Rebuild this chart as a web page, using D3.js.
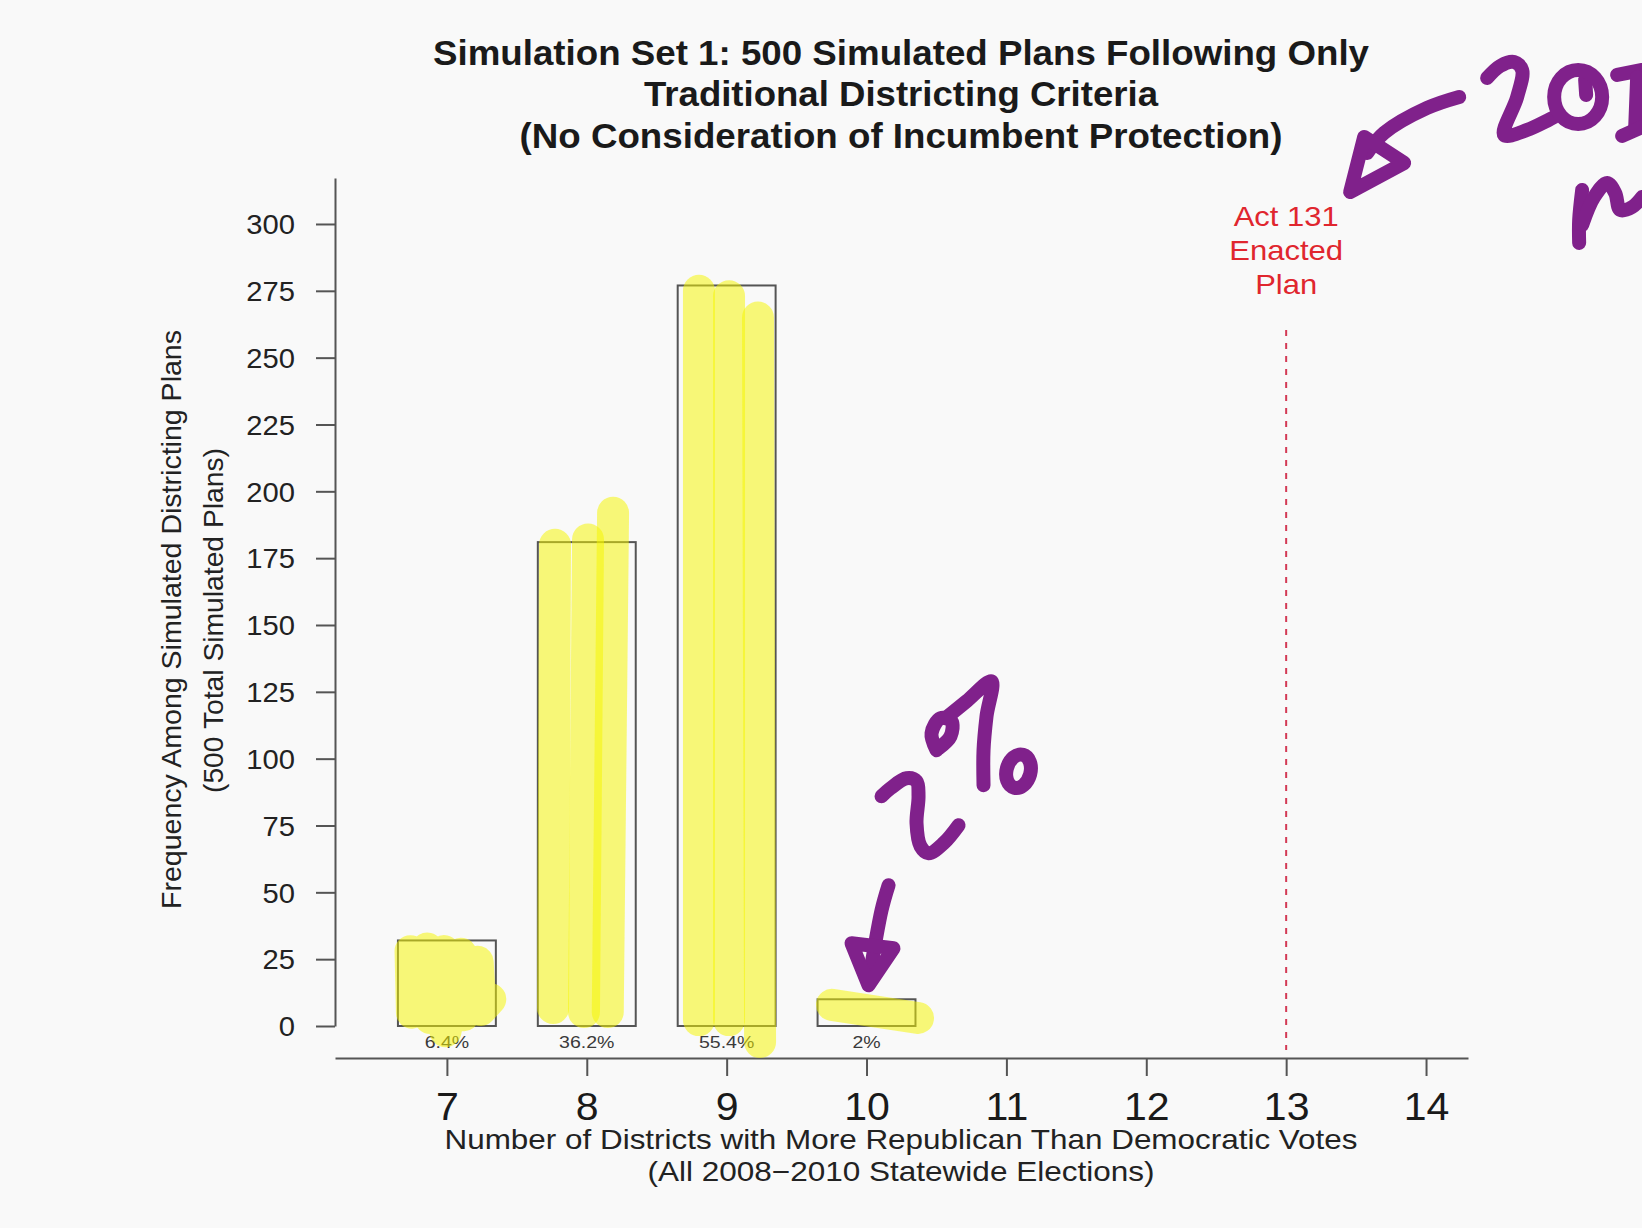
<!DOCTYPE html>
<html><head><meta charset="utf-8">
<script src="https://cdn.jsdelivr.net/npm/d3@7"></script>
<style>html,body{margin:0;padding:0;background:#f9f9f9;} svg{display:block;}</style>
</head><body>
<svg id="chart" width="1642" height="1228"></svg>
<script>
// ---- data ----
const categories = [7, 8, 9, 10];
const frequencies = [32, 181, 277, 10];
const percentLabels = ["6.4%", "36.2%", "55.4%", "2%"];
const xTicks = [7, 8, 9, 10, 11, 12, 13, 14];
const yTicks = [0, 25, 50, 75, 100, 125, 150, 175, 200, 225, 250, 275, 300];
const enactedPlan = 13;
const enactedLabel = ["Act 131", "Enacted", "Plan"];
const titleLines = ["Simulation Set 1: 500 Simulated Plans Following Only", "Traditional Districting Criteria", "(No Consideration of Incumbent Protection)"];
const xLabelLines = ["Number of Districts with More Republican Than Democratic Votes", "(All 2008\u22122010 Statewide Elections)"];
const yLabelLines = ["Frequency Among Simulated Districting Plans", "(500 Total Simulated Plans)"];

// highlighter strokes (in data units: [districts, frequency])
const highlightStrokes = [
  [[6.74,28],[6.75,5],[6.86,29],[6.88,3],[6.98,28],[6.99,-2],[7.10,27],[7.12,4],[7.22,24],[7.24,6],[7.31,10]],
  [[7.773,180],[7.759,6.7]],
  [[8.009,182],[7.980,5.2]],
  [[8.188,192],[8.15,5.2]],
  [[8.802,275],[8.802,2.2]],
  [[9.017,273],[9.017,2.2]],
  [[9.224,265],[9.239,-6.0]],
  [[9.753,7.9],[10.368,3.0]]
];

// ---- layout ----
const W = 1642, H = 1228;
const FONT = "'Liberation Sans', Arial, Helvetica, sans-serif";
const SX = 1.08;
const svg = d3.select("#chart");
svg.append("rect").attr("width", W).attr("height", H).attr("fill", "#f9f9f9");

const x = d3.scaleLinear().domain([6.2, 14.3]).range([335, 1468]);
const y = d3.scaleLinear().domain([0, 317.2]).range([1026, 178]);

// title
svg.append("g").selectAll("text").data(titleLines).join("text")
  .attr("x", 901).attr("y", (d, i) => [65, 106, 148][i])
  .attr("text-anchor", "middle").attr("font-family", FONT).attr("font-weight", "bold")
  .attr("font-size", 35).attr("fill", "#1a1a1a")
  .attr("textLength", (d, i) => [936, 514, 763][i]).attr("lengthAdjust", "spacingAndGlyphs")
  .text(d => d);

// y axis
const gy = svg.append("g").attr("transform", "translate(335,0)")
  .call(d3.axisLeft(y).tickValues(yTicks).tickSize(19).tickSizeOuter(0));
gy.select(".domain").attr("stroke", "#555").attr("stroke-width", 2);
gy.selectAll(".tick line").attr("stroke", "#555").attr("stroke-width", 2);
gy.selectAll(".tick text").attr("font-family", FONT).attr("font-size", 27).attr("fill", "#222")
  .attr("x", -40 / SX).attr("dy", "0.36em").attr("transform", `scale(${SX},1)`);

// x axis
const gx = svg.append("g").attr("transform", "translate(0,1058)")
  .call(d3.axisBottom(x).tickValues(xTicks).tickSize(18).tickSizeOuter(0));
gx.select(".domain").attr("stroke", "#555").attr("stroke-width", 2);
gx.selectAll(".tick line").attr("stroke", "#555").attr("stroke-width", 2);
gx.selectAll(".tick text").attr("font-family", FONT).attr("font-size", 38).attr("fill", "#1a1a1a")
  .attr("y", 62).attr("dy", 0).attr("transform", `scale(${SX},1)`);

// axis labels
svg.append("g").selectAll("text").data(xLabelLines).join("text")
  .attr("x", 901).attr("y", (d, i) => [1149, 1181][i])
  .attr("text-anchor", "middle").attr("font-family", FONT).attr("font-size", 28).attr("fill", "#222")
  .attr("textLength", (d, i) => [913, 507][i]).attr("lengthAdjust", "spacingAndGlyphs")
  .text(d => d);
svg.append("g").selectAll("text").data(yLabelLines).join("text")
  .attr("transform", (d, i) => `translate(${[181, 223][i]},${[619.5, 620.5][i]}) rotate(-90)`)
  .attr("text-anchor", "middle").attr("font-family", FONT).attr("font-size", 28).attr("fill", "#222")
  .attr("textLength", (d, i) => [579, 345][i]).attr("lengthAdjust", "spacingAndGlyphs")
  .text(d => d);

// bars
const bars = categories.map((c, i) => ({c, f: frequencies[i], p: percentLabels[i]}));
svg.append("g").selectAll("rect").data(bars).join("rect")
  .attr("x", d => x(d.c - 0.35)).attr("width", d => x(d.c + 0.35) - x(d.c - 0.35))
  .attr("y", d => y(d.f)).attr("height", d => y(0) - y(d.f))
  .attr("fill", "none").attr("stroke", "#555").attr("stroke-width", 2);
svg.append("g").selectAll("text").data(bars).join("text")
  .attr("transform", d => `translate(${x(d.c)},1048) scale(1.15,1)`)
  .attr("text-anchor", "middle").attr("font-family", FONT).attr("font-size", 17).attr("fill", "#3a3a3a")
  .text(d => d.p);

// enacted plan marker
svg.append("line").attr("x1", x(enactedPlan)).attr("x2", x(enactedPlan))
  .attr("y1", 330).attr("y2", 1050)
  .attr("stroke", "#d33a55").attr("stroke-width", 2).attr("stroke-dasharray", "6,7");
svg.append("g").selectAll("text").data(enactedLabel).join("text")
  .attr("x", x(enactedPlan)).attr("y", (d, i) => [226, 260, 294][i])
  .attr("text-anchor", "middle").attr("font-family", FONT).attr("font-size", 28).attr("fill", "#e0262e")
  .attr("textLength", (d, i) => [105, 114, 62][i]).attr("lengthAdjust", "spacingAndGlyphs")
  .text(d => d);

// highlighter overlay
const hl = d3.line().x(d => x(d[0])).y(d => y(d[1]));
svg.append("g").selectAll("path").data(highlightStrokes).join("path")
  .attr("d", hl).attr("fill", "none").attr("stroke", "#f6f500").attr("stroke-opacity", 0.52)
  .attr("stroke-width", 32).attr("stroke-linecap", "round").attr("stroke-linejoin", "round");

// handwritten purple annotations (offsets in px from anchors on the scales)
const PURPLE = "#80218b";
const a1 = [x(10), y(10)];
const a2 = [x(13), y(300)];
const note1 = [
  [[15,-203],[24,-211],[40,-221],[50,-218],[52,-203],[50,-176],[54,-153],[62,-146],[77,-156],[92,-174]],
  [[70,-249],[65,-266],[74,-281],[85,-278],[84,-263],[72,-251]],
  [[79,-281],[100,-298],[125,-318],[120,-283],[117,-249],[117,-214]],
  [[22,-114],[15,-89],[2,-16]],
  [[-15,-56],[27,-51],[2,-14],[-15,-56]]
];
const note2 = [
  [[173,-127],[141,-116],[98,-91],[81,-71]],
  [[64,-32],[78,-87],[118,-61],[64,-32]],
  [[201,-146],[214,-158],[228,-162],[236,-154],[231,-127],[218,-89],[241,-94],[268,-107]],
  [[299,-144],[300,-129]],
  [[331,-149],[356,-154]],
  [[351,-147],[349,-96]],
  [[336,-88],[356,-97]],
  [[296,-34],[293,-4],[293,19]],
  [[296,1],[308,-27],[321,-41],[329,-31],[334,-14],[346,-17],[356,-27]]
];
const pl = d3.line().curve(d3.curveCatmullRom);
function drawNote(anchor, strokes) {
  svg.append("g").attr("transform", `translate(${anchor[0]},${anchor[1]})`)
    .selectAll("path").data(strokes).join("path")
    .attr("d", pl).attr("fill", "none").attr("stroke", PURPLE).attr("stroke-width", 14)
    .attr("stroke-linecap", "round").attr("stroke-linejoin", "round");
}
function drawLinear(anchor, strokes) {
  svg.append("g").attr("transform", `translate(${anchor[0]},${anchor[1]})`)
    .selectAll("path").data(strokes).join("path")
    .attr("d", d3.line()).attr("fill", "none").attr("stroke", PURPLE).attr("stroke-width", 14)
    .attr("stroke-linecap", "round").attr("stroke-linejoin", "round");
}
drawNote(a1, note1.slice(0, 4));
drawLinear(a1, note1.slice(4));
drawNote(a2, [note2[0]].concat(note2.slice(2)));
drawLinear(a2, [note2[1]]);
// "o" of % and "0" of 20..
svg.append("ellipse").attr("cx", a1[0] + 152).attr("cy", a1[1] - 228).attr("rx", 12).attr("ry", 17)
  .attr("transform", `rotate(15,${a1[0] + 152},${a1[1] - 228})`)
  .attr("fill", "none").attr("stroke", PURPLE).attr("stroke-width", 14);
svg.append("ellipse").attr("cx", a2[0] + 292).attr("cy", a2[1] - 127).attr("rx", 24).attr("ry", 27)
  .attr("fill", "none").attr("stroke", PURPLE).attr("stroke-width", 14);
</script>
</body></html>
